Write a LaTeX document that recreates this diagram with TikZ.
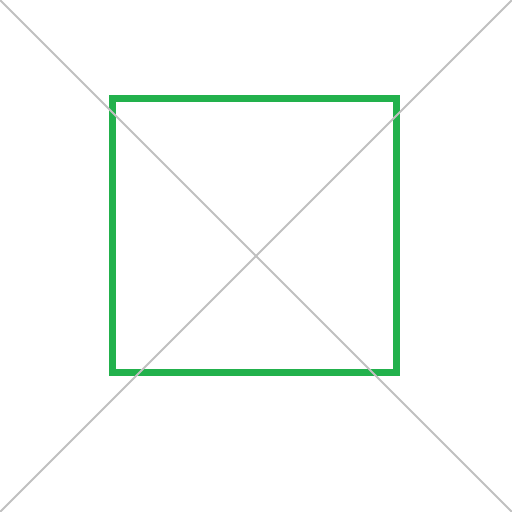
\documentclass[tikz,border=0pt]{standalone}
\usepackage{tikz}
\definecolor{boxgreen}{HTML}{22B14C}
\definecolor{crossgray}{HTML}{C0C0C0}
\tikzset{boxline/.style={line width=7pt, draw=boxgreen},
  crossline/.style={line width=2pt, draw=crossgray}}

\begin{document}
\begin{tikzpicture}[x=1pt,y=1pt]
    \useasboundingbox (0,0) rectangle (512,512);
    \coordinate (bl) at (0,0);
    \coordinate (tr) at (512,512);
    \coordinate (tl) at (0,512);
    \coordinate (br) at (512,0);
    \draw[boxline] (112.5,139.5) rectangle (396,413.5);
    \draw[crossline] (tl) -- (br);
    \draw[crossline] (bl) -- (tr);
  \end{tikzpicture}
\end{document}
